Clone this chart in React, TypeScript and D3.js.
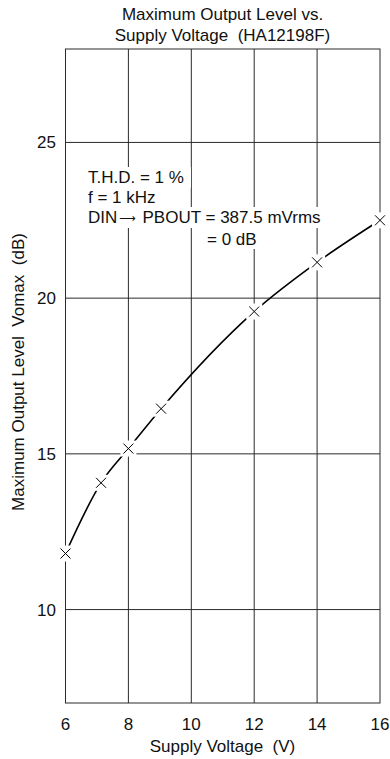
import React from "react";
import * as d3 from "d3";

const voltages = [6, 7.13, 8.0, 9.04, 12, 14, 16];
const levels = [11.8, 14.07, 15.17, 16.45, 19.57, 21.15, 22.5];
const xTicks = [6, 8, 10, 12, 14, 16];
const yTicks = [10, 15, 20, 25];
const titleLines = ["Maximum Output Level vs.", "Supply Voltage  (HA12198F)"];
const xTitle = "Supply Voltage  (V)";
const yTitle = "Maximum Output Level  Vomax  (dB)";
const noteLines = ["T.H.D. = 1 %", "f = 1 kHz"];
const noteDinLeft = "DIN";
const noteArrow = "\u27F6";
const noteDinRight = "PBOUT = 387.5 mVrms";
const noteLast = "= 0 dB";

const W = 390;
const H = 759;
const FONT = "'Liberation Sans', Arial, Helvetica, sans-serif";
const FS = 17;
const pre = { whiteSpace: "pre" as const };

export default function App() {
  const x = d3.scaleLinear().domain([6, 16]).range([65.5, 380]);
  const y = d3.scaleLinear().domain([7, 28]).range([703, 49]);
  const pts = voltages.map((v, i) => [x(v), y(levels[i])] as [number, number]);
  const line = d3.line().curve(d3.curveMonotoneX)(pts) || "";
  const grid = "#2a2a2a";

  const noteX = 88;
  const noteBase = [183, 203, 223];
  const noteBoxW = [106, 76, 250];

  return (
    <svg
      width={W}
      height={H}
      style={{ position: "absolute", left: 0, top: 0, background: "#fff" }}
      fontFamily={FONT}
    >
      <rect x={0} y={0} width={W} height={H} fill="#fff" />
      {titleLines.map((t, i) => (
        <text key={t} x={222.5} y={20 + i * 20.5} textAnchor="middle" fontSize={FS} fill="#111" style={pre}>
          {t}
        </text>
      ))}
      {xTicks.slice(1, -1).map((t) => (
        <line key={"gx" + t} x1={x(t)} x2={x(t)} y1={y(28)} y2={y(7)} stroke={grid} strokeWidth={1} />
      ))}
      {yTicks.map((t) => (
        <line key={"gy" + t} x1={x(6)} x2={x(16)} y1={y(t)} y2={y(t)} stroke={grid} strokeWidth={1} />
      ))}
      <rect
        x={x(6)}
        y={y(28)}
        width={x(16) - x(6)}
        height={y(7) - y(28)}
        fill="none"
        stroke={grid}
        strokeWidth={1}
      />
      {xTicks.map((t) => (
        <text key={"tx" + t} x={x(t)} y={730} textAnchor="middle" fontSize={FS} fill="#111">
          {t}
        </text>
      ))}
      {yTicks.map((t) => (
        <text key={"ty" + t} x={56} y={y(t) + 6} textAnchor="end" fontSize={FS} fill="#111">
          {t}
        </text>
      ))}
      <text x={222.5} y={752} textAnchor="middle" fontSize={FS} fill="#111" style={pre}>
        {xTitle}
      </text>
      <text
        transform={`translate(24,${372}) rotate(-90)`}
        textAnchor="middle"
        fontSize={FS}
        fill="#111"
        style={pre}
      >
        {yTitle}
      </text>
      {/* annotation */}
      {noteBase.map((b, i) => (
        <rect key={"nb" + i} x={noteX - 3} y={b - 16} width={noteBoxW[i]} height={21} fill="#fff" />
      ))}
      <rect x={204} y={noteBase[2] + 4} width={70} height={22} fill="#fff" />
      {noteLines.map((t, i) => (
        <text key={"nt" + i} x={noteX} y={noteBase[i]} fontSize={FS} fill="#111" style={pre}>
          {t}
        </text>
      ))}
      <text x={noteX} y={noteBase[2]} fontSize={FS} fill="#111">
        {noteDinLeft}
      </text>
      <text
        x={127.5}
        y={noteBase[2] - 1}
        textAnchor="middle"
        fontSize={11.5}
        fill="#111"
        fontFamily="'DejaVu Sans', sans-serif"
      >
        {noteArrow}
      </text>
      <text x={142.5} y={noteBase[2]} fontSize={FS} fill="#111" style={pre}>
        {noteDinRight}
      </text>
      <text x={207} y={245} fontSize={FS} fill="#111" style={pre}>
        {noteLast}
      </text>
      {/* curve */}
      <path d={line} fill="none" stroke="#000" strokeWidth={1.6} />
      {pts.map(([px, py], i) => (
        <g key={"m" + i}>
          <rect x={px - 8} y={py - 8} width={16} height={16} fill="#fff" />
          <path
            d={`M${px - 5},${py - 5}L${px + 5},${py + 5}M${px - 5},${py + 5}L${px + 5},${py - 5}`}
            stroke="#000"
            strokeWidth={1}
          />
        </g>
      ))}
    </svg>
  );
}
